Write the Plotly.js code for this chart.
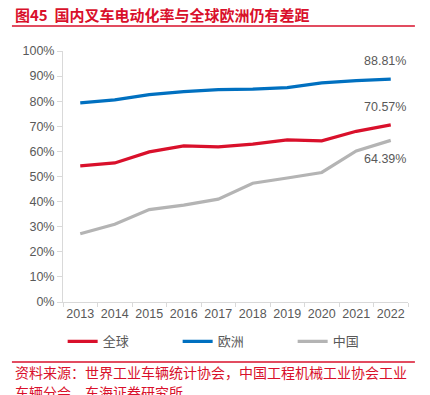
<!DOCTYPE html>
<html>
<head>
<meta charset="utf-8">
<script src="https://cdn.plot.ly/plotly-3.0.1.min.js"></script>
<style>html,body{margin:0;padding:0;background:#fff;}#chart{width:430px;height:395px;}</style>
</head>
<body>
<div id="chart"></div>
<script>
const years = ['2013','2014','2015','2016','2017','2018','2019','2020','2021','2022'];
const globalRate = [54.2, 55.4, 59.8, 62.2, 61.8, 62.9, 64.6, 64.2, 68.0, 70.57];
const europeRate = [79.3, 80.5, 82.6, 83.8, 84.6, 84.8, 85.4, 87.3, 88.2, 88.81];
const chinaRate = [27.2, 31.0, 36.8, 38.6, 41.0, 47.3, 49.4, 51.6, 60.2, 64.39];
const seriesNames = ['全球', '欧洲', '中国'];
const titleText = '<b>图45  国内叉车电动化率与全球欧洲仍有差距</b>';
const sourceLine1 = '资料来源：世界工业车辆统计协会，中国工程机械工业协会工业';
const sourceLine2 = '车辆分会，东海证券研究所';

const RED = '#D9102B', BLUE = '#0070C0', GRAY = '#B4B4B4';
const CJK = '"Noto Sans CJK SC", "Liberation Sans", Arial, sans-serif';
const LAT = '"Liberation Sans", Arial, sans-serif';

function line(y, name, color) {
  return {x: years, y: y, name: name, type: 'scatter', mode: 'lines',
    line: {color: color, width: 3.2}, hoverinfo: 'skip'};
}
const data = [
  line(globalRate, seriesNames[0], RED),
  line(europeRate, seriesNames[1], BLUE),
  line(chinaRate, seriesNames[2], GRAY)
];
const last = years.length - 1;
function valLabel(arr, yshift) {
  return {x: last, y: arr[last], xref: 'x', yref: 'y', text: arr[last].toFixed(2) + '%',
    showarrow: false, yshift: yshift, xshift: -6, font: {family: LAT, size: 12.5, color: '#595959'}};
}
const layout = {
  width: 430, height: 395,
  margin: {l: 63, r: 22, t: 51, b: 93},
  paper_bgcolor: '#fff', plot_bgcolor: '#fff',
  showlegend: true,
  legend: {orientation: 'h', x: -0.001, xanchor: 'left', y: -0.157, yanchor: 'middle',
    font: {family: CJK, size: 13, color: '#595959'}, entrywidth: 70, entrywidthmode: 'pixels',
    itemwidth: 30},
  xaxis: {type: 'category', range: [-0.5, 9.5], showgrid: false, zeroline: false,
    showline: true, linecolor: '#D9D9D9', linewidth: 1, ticks: 'outside', ticklen: 4,
    tickcolor: '#D9D9D9', tickson: 'boundaries', tickangle: 0, automargin: false,
    tickfont: {family: LAT, size: 12.5, color: '#595959'}},
  yaxis: {range: [0, 100], dtick: 10, ticksuffix: '%', showgrid: false, zeroline: false,
    showline: true, linecolor: '#D9D9D9', linewidth: 1, ticks: 'outside', ticklen: 5,
    tickcolor: '#D9D9D9', automargin: false, tickfont: {family: LAT, size: 12.5, color: '#595959'}},
  annotations: [
    valLabel(europeRate, 18),
    valLabel(globalRate, 18),
    valLabel(chinaRate, -19),
    {xref: 'paper', yref: 'paper', x: -0.145, y: 1.146, xanchor: 'left', yanchor: 'middle',
      text: titleText, showarrow: false, font: {family: CJK, size: 15, color: RED}},
    {xref: 'paper', yref: 'paper', x: -0.145, y: -0.280, xanchor: 'left', yanchor: 'middle',
      text: sourceLine1, showarrow: false, font: {family: CJK, size: 14, color: RED}},
    {xref: 'paper', yref: 'paper', x: -0.145, y: -0.360, xanchor: 'left', yanchor: 'middle',
      text: sourceLine2, showarrow: false, font: {family: CJK, size: 14, color: RED}}
  ],
  shapes: [
    {type: 'line', xref: 'paper', yref: 'paper', x0: -0.148, x1: 1.020, y0: 1.0996, y1: 1.0996,
      line: {color: RED, width: 1.5}},
    {type: 'line', xref: 'paper', yref: 'paper', x0: -0.148, x1: 1.020, y0: -0.239, y1: -0.239,
      line: {color: RED, width: 1.5}}
  ]
};
Plotly.newPlot('chart', data, layout, {displayModeBar: false, staticPlot: true});
</script>
</body>
</html>
